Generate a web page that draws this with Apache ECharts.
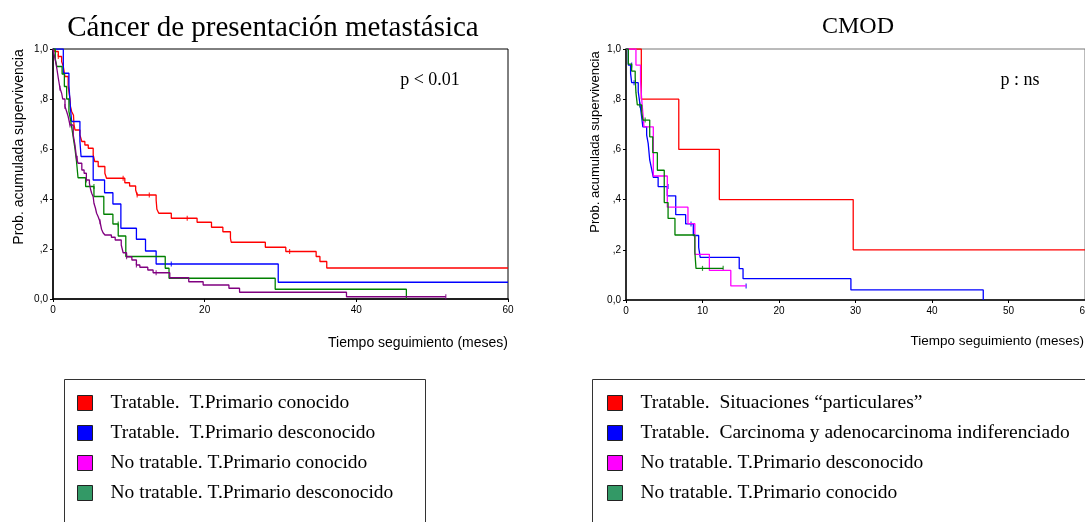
<!DOCTYPE html>
<html>
<head>
<meta charset="utf-8">
<script src="https://cdn.jsdelivr.net/npm/echarts@6/dist/echarts.min.js"></script>
<style>
  html, body { margin: 0; padding: 0; background: #fff; }
  #chart { width: 1085px; height: 522px; }
</style>
</head>
<body>
<div id="chart"></div>
<script>
// ---- data: [meses, supervivencia] after each step ----
const metaNames = ['Tratable.  T.Primario conocido', 'Tratable.  T.Primario desconocido',
  'No tratable. T.Primario conocido', 'No tratable. T.Primario desconocido'];
const cmodNames = ['Tratable.  Situaciones \u201cparticulares\u201d',
  'Tratable.  Carcinoma y adenocarcinoma indiferenciado',
  'No tratable. T.Primario desconocido', 'No tratable. T.Primario conocido'];

const metaRed = [[0,1],[0.26,0.99],[0.7,0.97],[1.14,0.95],[1.36,0.93],[1.58,0.89],[2.0,0.85],[2.24,0.80],
  [2.3,0.77],[2.46,0.75],[2.7,0.735],[2.76,0.70],[2.9,0.676],[3.55,0.656],[3.8,0.63],[4.2,0.616],[4.65,0.603],
  [5.3,0.576],[5.5,0.55],[5.96,0.53],[6.84,0.503],[7.06,0.483],[9.47,0.465],[10.1,0.452],[10.9,0.436],
  [11.1,0.416],[13.6,0.396],[13.7,0.359],[13.95,0.343],[15.6,0.323],[19.0,0.307],[20.9,0.287],[22.4,0.269],
  [23.4,0.243],[23.5,0.227],[28.0,0.207],[30.7,0.19],[34.7,0.17],[35.2,0.15],[36.1,0.124],[60,0.124]];
const metaBlue = [[0,1],[1.36,0.903],[2.1,0.856],[2.3,0.763],[2.46,0.71],[3.55,0.63],[3.7,0.57],[5.3,0.476],
  [6.8,0.425],[7.9,0.38],[8.95,0.283],[11.0,0.239],[12.2,0.192],[13.6,0.14],[29.7,0.067],[60,0.067]];
const metaPurple = [[0,1],[0.13,0.98],[0.26,0.963],[0.5,0.923],[0.7,0.883],[0.92,0.843],[1.14,0.823],[1.28,0.80],
  [1.58,0.77],[1.8,0.75],[2.0,0.73],[2.24,0.696],[2.67,0.656],[2.9,0.616],[3.1,0.563],[3.3,0.543],[3.8,0.516],
  [4.1,0.503],[4.4,0.476],[4.8,0.463],[4.95,0.439],[5.1,0.423],[5.3,0.409],[5.4,0.383],[5.6,0.363],[5.75,0.343],
  [5.96,0.329],[6.2,0.309],[6.4,0.279],[6.6,0.265],[6.85,0.256],[7.7,0.247],[8.2,0.236],[9.0,0.216],[9.25,0.185],
  [9.7,0.169],[10.4,0.156],[11.0,0.136],[11.45,0.127],[12.5,0.116],[13.2,0.105],[15.4,0.085],[17.9,0.069],
  [19.8,0.056],[23.2,0.043],[24.6,0.027],[38.7,0.009],[51.8,0.009]];
const metaGreen = [[0,1],[0.3,0.96],[0.5,0.93],[1.2,0.90],[1.5,0.85],[1.8,0.80],[2.1,0.75],[2.3,0.72],[2.5,0.68],
  [2.7,0.64],[2.9,0.60],[3.1,0.55],[3.3,0.485],[4.3,0.45],[5.4,0.41],[6.7,0.339],[7.9,0.30],[8.6,0.252],
  [9.6,0.17],[14.8,0.123],[15.3,0.083],[29.3,0.039],[46.6,0]];

const metaRedCens = [[0.7,0.97],[9.25,0.483],[11.1,0.416],[12.7,0.416],[17.7,0.323],[31.2,0.19]];
const metaBlueCens = [[15.6,0.14]];
const metaPurpleCens = [[0.92,0.843],[1.58,0.77],[2.24,0.696],[3.2,0.563],[4.4,0.476],[6.2,0.309],
  [9.7,0.169],[11.0,0.136],[13.6,0.105],[51.8,0.009]];
const metaGreenCens = [[5.4,0.45],[8.6,0.30]];

const cmodRed = [[0,1],[2.0,0.8],[6.9,0.6],[12.2,0.4],[29.7,0.2],[60,0.2]];
const cmodBlue = [[0,1],[0.3,0.936],[0.6,0.903],[0.74,0.866],[1.6,0.83],[1.75,0.797],[1.9,0.764],[2.05,0.728],
  [2.2,0.69],[2.7,0.657],[2.9,0.624],[3.1,0.558],[3.36,0.52],[3.57,0.489],[4.2,0.452],[5.4,0.415],[6.5,0.34],
  [7.8,0.303],[8.8,0.257],[9.5,0.21],[9.7,0.17],[14.8,0.125],[15.3,0.085],[29.4,0.04],[46.7,0]];
const cmodMagenta = [[0,1],[1.3,0.936],[1.9,0.873],[2.05,0.80],[2.2,0.747],[2.35,0.69],[3.57,0.494],[5.4,0.37],
  [8.1,0.304],[9.0,0.182],[10.9,0.118],[13.7,0.056],[15.7,0.056]];
const cmodGreen = [[0,1],[0.3,0.94],[0.74,0.912],[1.2,0.886],[1.3,0.826],[1.48,0.777],[2.05,0.75],[2.2,0.717],
  [3.1,0.65],[3.5,0.587],[4.1,0.517],[5.0,0.388],[5.5,0.325],[6.4,0.259],[9.0,0.192],[9.15,0.126],[12.7,0.126]];

const cmodBlueCens = [[0.74,0.936],[1.05,0.866],[5.5,0.452],[8.5,0.303],[15.7,0.056]];
const cmodGreenCens = [[1.8,0.777],[2.5,0.717],[10.0,0.126],[12.7,0.126]];

const yTickLabels = ['0,0', ',2', ',4', ',6', ',8', '1,0'];

// ---- chart ----
var chart = echarts.init(document.getElementById('chart'));

function kmLine(name, data, color, grid) {
  return {
    name: name, type: 'line', step: 'end', data: data,
    xAxisIndex: grid, yAxisIndex: grid,
    showSymbol: false, symbol: 'none', silent: true,
    lineStyle: { color: color, width: 1.3 },
    itemStyle: { color: color }
  };
}
function censor(data, color, grid) {
  return {
    type: 'scatter', data: data, xAxisIndex: grid, yAxisIndex: grid,
    symbol: 'rect', symbolSize: [1.2, 5], silent: true,
    itemStyle: { color: color }
  };
}
function xAx(grid, interval) {
  return {
    gridIndex: grid, type: 'value', min: 0, max: 60, interval: interval,
    axisLine: { lineStyle: { color: '#000', width: 1.5 } },
    axisTick: { length: 3, lineStyle: { color: '#000' } },
    axisLabel: { color: '#000', fontSize: 10, fontFamily: 'Liberation Sans', margin: 6 },
    splitLine: { show: false }
  };
}
function yAx(grid) {
  return {
    gridIndex: grid, type: 'value', min: 0, max: 1, interval: 0.2,
    axisLine: { show: true, lineStyle: { color: '#000', width: 1.5 } },
    axisTick: { show: true, length: 3, lineStyle: { color: '#000' } },
    axisLabel: {
      color: '#000', fontSize: 10, fontFamily: 'Liberation Sans', margin: 5,
      formatter: function (v, i) { return yTickLabels[i]; }
    },
    splitLine: { show: false }
  };
}
function legendItems(names, colors) {
  return names.map(function (n, i) {
    return { name: n, icon: 'rect', itemStyle: { color: colors[i], borderColor: '#222', borderWidth: 1 } };
  });
}
var serif = 'Liberation Serif';
var legendText = { fontFamily: serif, fontSize: 19.5, lineHeight: 20, color: '#000', padding: [0, 0, 0, 13] };

var option = {
  backgroundColor: '#fff',
  animation: false,
  title: [
    { text: 'Cáncer de presentación metastásica', left: 268, top: 9, textAlign: 'center',
      textStyle: { fontFamily: serif, fontSize: 29, fontWeight: 'normal', color: '#000' } },
    { text: 'CMOD', left: 853, top: 10, textAlign: 'center',
      textStyle: { fontFamily: serif, fontSize: 24, fontWeight: 'normal', color: '#000' } }
  ],
  grid: [
    { left: 53, right: 577, top: 49, bottom: 223, show: true, borderColor: '#000', borderWidth: 1,
      outerBoundsMode: 'none' },
    { left: 626, right: 0, top: 49, bottom: 222, show: true, borderColor: '#777', borderWidth: 1,
      outerBoundsMode: 'none' }
  ],
  xAxis: [xAx(0, 20), xAx(1, 10)],
  yAxis: [yAx(0), yAx(1)],
  legend: [
    { orient: 'vertical', left: 72, top: 388, itemWidth: 15, itemHeight: 15, itemGap: 10,
      selectedMode: false, textStyle: legendText,
      data: legendItems(metaNames, ['#ff0000', '#0000ff', '#ff00ff', '#339966']) },
    { orient: 'vertical', left: 602, top: 388, itemWidth: 15, itemHeight: 15, itemGap: 10,
      selectedMode: false, textStyle: legendText,
      data: legendItems(cmodNames, ['#ff0000', '#0000ff', '#ff00ff', '#339966']) }
  ],
  graphic: [
    { type: 'rect', shape: { x: 64.5, y: 379.5, width: 361, height: 200 }, style: { fill: 'none', stroke: '#333', lineWidth: 1 } },
    { type: 'rect', shape: { x: 592.5, y: 379.5, width: 600, height: 200 }, style: { fill: 'none', stroke: '#333', lineWidth: 1 } },
    { type: 'text', x: 430, y: 80, style: { text: 'p < 0.01', font: '18px "Liberation Serif"', fill: '#000', align: 'center', verticalAlign: 'middle' } },
    { type: 'text', x: 1020, y: 80, style: { text: 'p : ns', font: '18px "Liberation Serif"', fill: '#000', align: 'center', verticalAlign: 'middle' } },
    { type: 'text', x: 508, y: 343, style: { text: 'Tiempo seguimiento (meses)', font: '14px "Liberation Sans"', fill: '#000', align: 'right', verticalAlign: 'middle' } },
    { type: 'text', x: 1084, y: 341, style: { text: 'Tiempo seguimiento (meses)', font: '13.5px "Liberation Sans"', fill: '#000', align: 'right', verticalAlign: 'middle' } },
    { type: 'text', x: 19, y: 147, rotation: Math.PI / 2, style: { text: 'Prob. acumulada supervivencia', font: '14px "Liberation Sans"', fill: '#000', align: 'center', verticalAlign: 'middle' } },
    { type: 'text', x: 595, y: 142, rotation: Math.PI / 2, style: { text: 'Prob. acumulada supervivencia', font: '13px "Liberation Sans"', fill: '#000', align: 'center', verticalAlign: 'middle' } }
  ],
  series: [
    kmLine(metaNames[0], metaRed, '#ff0000', 0),
    kmLine(metaNames[1], metaBlue, '#0000ff', 0),
    kmLine(metaNames[3], metaGreen, '#008000', 0),
    kmLine(metaNames[2], metaPurple, '#800080', 0),
    censor(metaRedCens, '#ff0000', 0),
    censor(metaBlueCens, '#0000ff', 0),
    censor(metaGreenCens, '#008000', 0),
    censor(metaPurpleCens, '#800080', 0),
    kmLine(cmodNames[0], cmodRed, '#ff0000', 1),
    kmLine(cmodNames[1], cmodBlue, '#0000ff', 1),
    kmLine(cmodNames[2], cmodMagenta, '#ff00ff', 1),
    kmLine(cmodNames[3], cmodGreen, '#008000', 1),
    censor(cmodBlueCens, '#0000ff', 1),
    censor(cmodGreenCens, '#008000', 1)
  ]
};
chart.setOption(option);
</script>
</body>
</html>
